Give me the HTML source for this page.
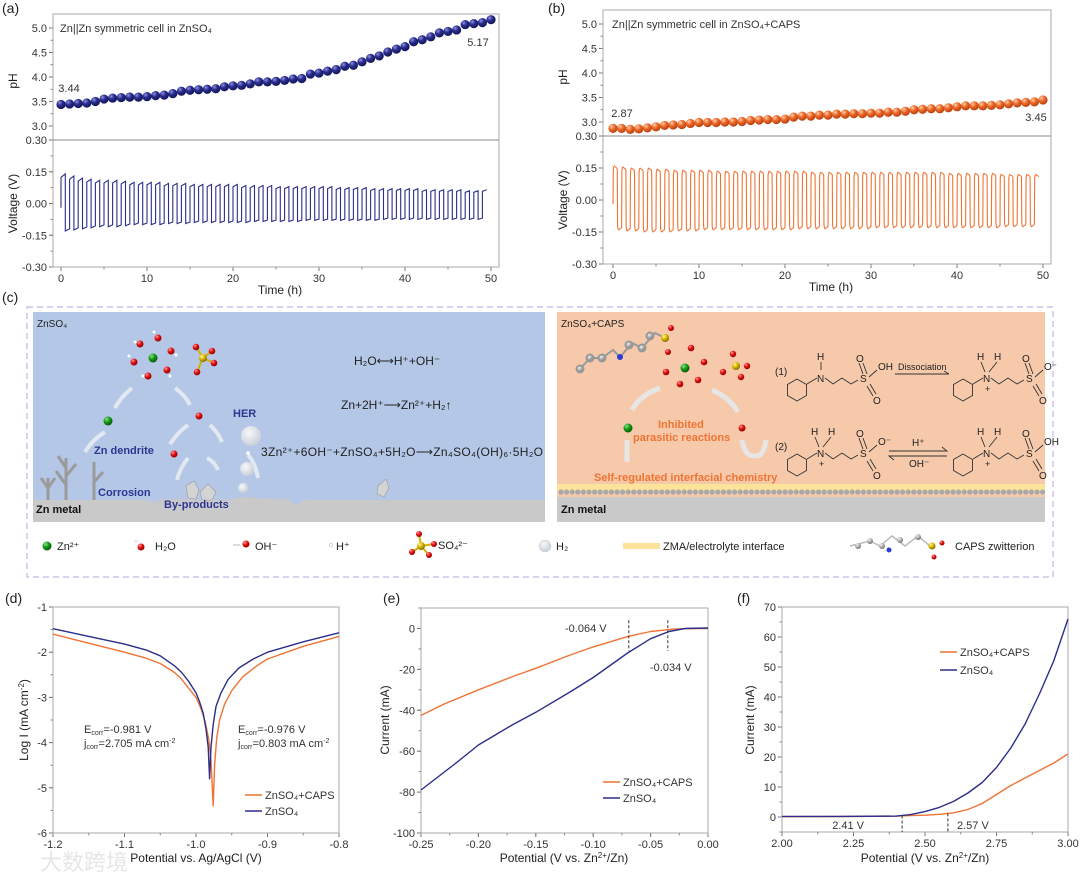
<!DOCTYPE html>
<html><head><meta charset="utf-8">
<style>
html,body{margin:0;padding:0;background:#fff;}
svg{display:block;font-family:"Liberation Sans","Noto Sans CJK SC",sans-serif;}
.tk{font-size:11px;fill:#333;}
.lab{font-size:12px;fill:#222;}
</style></head>
<body>
<svg id="fig" width="1080" height="885" viewBox="0 0 1080 885" xmlns="http://www.w3.org/2000/svg">
<defs>
<radialGradient id="gNavy" cx="35%" cy="30%" r="70%"><stop offset="0" stop-color="#8f93e0"/><stop offset="0.45" stop-color="#2a2d8f"/><stop offset="1" stop-color="#14165a"/></radialGradient>
<radialGradient id="gOr" cx="35%" cy="30%" r="70%"><stop offset="0" stop-color="#ffd2b0"/><stop offset="0.45" stop-color="#ef6a2a"/><stop offset="1" stop-color="#b8420e"/></radialGradient>
<radialGradient id="gRed" cx="35%" cy="30%" r="70%"><stop offset="0" stop-color="#ff9a9a"/><stop offset="0.5" stop-color="#e01010"/><stop offset="1" stop-color="#900"/></radialGradient>
<radialGradient id="gGreen" cx="35%" cy="30%" r="70%"><stop offset="0" stop-color="#8fe08f"/><stop offset="0.5" stop-color="#139a13"/><stop offset="1" stop-color="#0a5a0a"/></radialGradient>
<radialGradient id="gYel" cx="35%" cy="30%" r="70%"><stop offset="0" stop-color="#fff7a0"/><stop offset="0.5" stop-color="#d8b800"/><stop offset="1" stop-color="#8a7000"/></radialGradient>
<radialGradient id="gGray" cx="35%" cy="30%" r="70%"><stop offset="0" stop-color="#f4f4f4"/><stop offset="0.6" stop-color="#a8a8a8"/><stop offset="1" stop-color="#777"/></radialGradient>
<radialGradient id="gH2" cx="40%" cy="35%" r="65%"><stop offset="0" stop-color="#f8f8f8"/><stop offset="1" stop-color="#c9d0da"/></radialGradient>
</defs>

<text x="2" y="13" font-size="14" fill="#222">(a)</text>
<text x="548" y="13" font-size="14" fill="#222">(b)</text>
<text x="2" y="302" font-size="14" fill="#222">(c)</text>
<text x="5" y="603" font-size="14" fill="#222">(d)</text>
<text x="383" y="603" font-size="14" fill="#222">(e)</text>
<text x="737" y="603" font-size="14" fill="#222">(f)</text>

<g id="illus">
<rect x="27" y="307" width="1026" height="270" fill="none" stroke="#c7b4e8" stroke-width="1.2" stroke-dasharray="6,4"/>
<g>
<rect x="33" y="312" width="512" height="210" fill="#b4c7e6"/>
<path d="M33 500 L150 500 L155 503 L160 499 L230 500 L240 497 L290 500 L295 505 L305 500 L545 500 L545 522 L33 522Z" fill="#c9c9c9"/>
<text x="37" y="327" font-size="10" fill="#222">ZnSO₄</text>
<text x="36" y="513" font-size="11" font-weight="bold" fill="#111">Zn metal</text>
<g stroke="#9b9b9b" stroke-width="3" fill="none">
<path d="M48 500 L48 478 M48 488 L41 478 M48 488 L55 478"/>
<path d="M66 500 L66 458 M66 485 L56 471 M66 476 L76 464 M66 468 L58 456"/>
<path d="M94 500 L94 462 M94 482 L103 472"/>
</g>
<g stroke="#e8ecf3" stroke-width="4" fill="none" opacity="0.9">
<path d="M132 388 Q120 398 115 408"/><path d="M175 388 Q185 395 190 405"/>
<path d="M105 432 Q92 440 85 452"/><path d="M188 425 Q178 432 170 444"/>
<path d="M210 425 Q218 432 222 442"/><path d="M188 458 Q180 468 177 480"/>
<path d="M207 458 Q215 462 218 470"/><path d="M248 455 Q255 462 258 478"/>
</g>
<g>
<circle cx="153" cy="358" r="4.5" fill="url(#gGreen)"/>
<circle cx="140" cy="344" r="3.5" fill="url(#gRed)"/><circle cx="158" cy="338" r="3.5" fill="url(#gRed)"/><circle cx="171" cy="351" r="3.5" fill="url(#gRed)"/>
<circle cx="134" cy="362" r="3.5" fill="url(#gRed)"/><circle cx="148" cy="376" r="3.5" fill="url(#gRed)"/><circle cx="167" cy="370" r="3.5" fill="url(#gRed)"/>
<g fill="#fff"><circle cx="135" cy="342" r="1.5"/><circle cx="154" cy="332" r="1.5"/><circle cx="176" cy="355" r="1.5"/><circle cx="129" cy="356" r="1.5"/><circle cx="143" cy="376" r="1.5"/><circle cx="170" cy="376" r="1.5"/></g>
</g>
<g>
<path d="M203 358 L196 347 M203 358 L212 351 M203 358 L214 363 M203 358 L197 372" stroke="#d4b000" stroke-width="2"/>
<circle cx="203" cy="358" r="4" fill="url(#gYel)"/>
<circle cx="196" cy="347" r="3.3" fill="url(#gRed)"/><circle cx="212" cy="351" r="3.3" fill="url(#gRed)"/><circle cx="214" cy="363" r="3.3" fill="url(#gRed)"/><circle cx="197" cy="372" r="3.3" fill="url(#gRed)"/>
</g>
<circle cx="108" cy="421" r="4.5" fill="url(#gGreen)"/>
<circle cx="199" cy="416" r="3.5" fill="url(#gRed)"/>
<circle cx="174" cy="454" r="3.5" fill="url(#gRed)"/>
<circle cx="248" cy="453" r="1.8" fill="#fff"/>
<g>
<circle cx="251" cy="436" r="10" fill="url(#gH2)"/><circle cx="247" cy="469" r="7" fill="url(#gH2)"/><circle cx="243" cy="488" r="5" fill="url(#gH2)"/>
</g>
<g fill="#d4d4d4" stroke="#999" stroke-width="0.6">
<path d="M186 486 L194 481 L199 490 L196 499 L188 498Z"/><path d="M200 492 L208 484 L216 492 L212 500 L202 500Z"/>
<path d="M378 486 L386 479 L389 488 L384 497 L377 494Z"/>
</g>
<text x="94" y="454" font-size="11" font-weight="bold" fill="#2e3592">Zn dendrite</text>
<text x="98" y="496" font-size="11" font-weight="bold" fill="#2e3592">Corrosion</text>
<text x="164" y="508" font-size="11" font-weight="bold" fill="#2e3592">By-products</text>
<text x="233" y="417" font-size="11" font-weight="bold" fill="#2e3592">HER</text>
<text x="354" y="365" font-size="12" fill="#222">H₂O⟷H⁺+OH⁻</text>
<text x="341" y="409" font-size="12" fill="#222">Zn+2H⁺⟶Zn²⁺+H₂↑</text>
<text x="261" y="456" font-size="12" fill="#222" textLength="282">3Zn²⁺+6OH⁻+ZnSO₄+5H₂O⟶Zn₄SO₄(OH)₆·5H₂O</text>
</g>

<g>
<rect x="557" y="312" width="488" height="210" fill="#f6c9aa"/>
<rect x="557" y="484" width="488" height="7" fill="#fbe39a"/>
<rect x="557" y="497" width="488" height="25" fill="#c9c9c9"/>
<g id="dots"></g>
<text x="561" y="327" font-size="10" fill="#222">ZnSO₄+CAPS</text>
<text x="561" y="513" font-size="11" font-weight="bold" fill="#111">Zn metal</text>
<g stroke="#999" stroke-width="2">
<path d="M580 369 L590 358 L602 358 L613 350 L620 357 L632 343 L642 348 L655 333 L663 337" fill="none"/>
<circle cx="580" cy="369" r="3.5" fill="url(#gGray)"/><circle cx="590" cy="358" r="3.5" fill="url(#gGray)"/><circle cx="602" cy="358" r="3.5" fill="url(#gGray)"/>
<circle cx="620" cy="357" r="3" fill="#2a3bd8" stroke="none"/><circle cx="629" cy="345" r="3.5" fill="url(#gGray)"/><circle cx="642" cy="348" r="3.5" fill="url(#gGray)"/><circle cx="650" cy="336" r="3.5" fill="url(#gGray)"/>
<circle cx="665" cy="338" r="4" fill="url(#gYel)" stroke="none"/><circle cx="671" cy="328" r="3" fill="url(#gRed)" stroke="none"/><circle cx="668" cy="352" r="3" fill="url(#gRed)" stroke="none"/>
</g>
<g>
<circle cx="685" cy="368" r="4.5" fill="url(#gGreen)"/>
<circle cx="666" cy="372" r="3.3" fill="url(#gRed)"/><circle cx="680" cy="384" r="3.3" fill="url(#gRed)"/><circle cx="698" cy="380" r="3.3" fill="url(#gRed)"/><circle cx="704" cy="362" r="3.3" fill="url(#gRed)"/><circle cx="691" cy="348" r="3.3" fill="url(#gRed)"/>
</g>
<g>
<circle cx="736" cy="366" r="4" fill="url(#gYel)"/><circle cx="733" cy="354" r="3.2" fill="url(#gRed)"/><circle cx="747" cy="366" r="3.2" fill="url(#gRed)"/><circle cx="723" cy="372" r="3.2" fill="url(#gRed)"/><circle cx="741" cy="377" r="3.2" fill="url(#gRed)"/>
</g>
<g stroke="#e6e6e6" stroke-width="5" fill="none">
<path d="M660 388 Q640 395 632 410"/><path d="M712 390 Q730 398 738 412"/><path d="M627 440 L627 462"/><path d="M742 440 Q745 460 760 455 Q765 450 766 440"/>
</g>
<circle cx="628" cy="428" r="4.5" fill="url(#gGreen)"/>
<circle cx="742" cy="428" r="3.5" fill="url(#gRed)"/>
<text x="658" y="428" font-size="11" font-weight="bold" fill="#ef7434">Inhibited</text>
<text x="633" y="441" font-size="11" font-weight="bold" fill="#ef7434">parasitic reactions</text>
<text x="594" y="481" font-size="11" font-weight="bold" fill="#ef7434">Self-regulated interfacial chemistry</text>
<g id="structs" font-size="10" fill="#222"></g>
</g>

<g font-size="11" fill="#222">
<circle cx="47" cy="546" r="4.5" fill="url(#gGreen)"/><text x="57" y="550">Zn²⁺</text>
<circle cx="141" cy="547" r="3.5" fill="url(#gRed)"/><circle cx="136" cy="541" r="1.3" fill="#fff" stroke="#bbb" stroke-width="0.4"/><text x="155" y="550">H₂O</text>
<line x1="233" y1="545" x2="240" y2="545" stroke="#bbb"/><circle cx="246" cy="544" r="3.5" fill="url(#gRed)"/><text x="255" y="550">OH⁻</text>
<circle cx="331" cy="545" r="1.8" fill="#fff" stroke="#aaa" stroke-width="0.5"/><text x="336" y="550">H⁺</text>
<path d="M421 546 L419 534 M421 546 L434 544 M421 546 L412 552 M421 546 L429 555" stroke="#d4b000" stroke-width="2"/>
<circle cx="421" cy="546" r="4" fill="url(#gYel)"/><circle cx="419" cy="534" r="3" fill="url(#gRed)"/><circle cx="434" cy="544" r="3" fill="url(#gRed)"/><circle cx="412" cy="552" r="3" fill="url(#gRed)"/><circle cx="429" cy="555" r="3" fill="url(#gRed)"/>
<text x="438" y="549">SO₄²⁻</text>
<circle cx="545" cy="546" r="6" fill="url(#gH2)" stroke="#ccc" stroke-width="0.5"/><text x="556" y="550">H₂</text>
<rect x="623" y="543" width="37" height="6" fill="#fbe39a"/><text x="663" y="550">ZMA/electrolyte interface</text>
<g stroke="#bbb" stroke-width="1.5"><path d="M850 546 L870 541 L880 546 L892 536 L905 546 L918 536 L930 546" fill="none"/></g>
<circle cx="858" cy="546" r="3" fill="url(#gGray)"/><circle cx="870" cy="541" r="3" fill="url(#gGray)"/><circle cx="882" cy="546" r="3" fill="url(#gGray)"/><circle cx="889" cy="550" r="2.5" fill="#2a3bd8"/><circle cx="900" cy="540" r="3" fill="url(#gGray)"/><circle cx="918" cy="537" r="3" fill="url(#gGray)"/><circle cx="932" cy="546" r="3.5" fill="url(#gYel)"/><circle cx="942" cy="543" r="2.5" fill="url(#gRed)"/><circle cx="934" cy="557" r="2.5" fill="url(#gRed)"/>
<text x="955" y="550">CAPS zwitterion</text>
</g>
</g>

<text x="40" y="870" font-size="22" fill="#e6e6e6" font-family="'Noto Sans CJK SC',sans-serif">大数跨境</text>

<g id="charts"></g>
</svg>

<script>
// ---------- DATA ----------
const hoursA = [0,1,2,3,4,5,6,7,8,9,10,11,12,13,14,15,16,17,18,19,20,21,22,23,24,25,26,27,28,29,30,31,32,33,34,35,36,37,38,39,40,41,42,43,44,45,46,47,48,49,50];
const phA = [3.44,3.45,3.46,3.47,3.50,3.55,3.57,3.58,3.59,3.59,3.60,3.62,3.63,3.66,3.71,3.73,3.74,3.75,3.76,3.80,3.82,3.83,3.86,3.90,3.90,3.91,3.93,3.96,3.97,4.06,4.08,4.12,4.15,4.22,4.24,4.31,4.38,4.43,4.51,4.57,4.62,4.72,4.76,4.82,4.90,4.93,4.96,5.07,5.09,5.11,5.17];
const phB = [2.87,2.87,2.85,2.86,2.88,2.90,2.93,2.94,2.95,2.97,2.99,2.99,2.99,3.00,3.00,3.01,3.03,3.04,3.05,3.05,3.06,3.10,3.12,3.12,3.14,3.14,3.16,3.16,3.17,3.17,3.18,3.18,3.20,3.20,3.22,3.25,3.26,3.27,3.27,3.29,3.31,3.33,3.33,3.33,3.34,3.35,3.37,3.39,3.40,3.41,3.45];
const vHighA = [0.14,0.13,0.12,0.115,0.11,0.11,0.11,0.105,0.10,0.10,0.10,0.10,0.095,0.095,0.095,0.09,0.09,0.09,0.09,0.09,0.09,0.085,0.085,0.085,0.085,0.08,0.08,0.08,0.08,0.08,0.08,0.08,0.075,0.075,0.075,0.075,0.07,0.07,0.07,0.07,0.07,0.07,0.065,0.065,0.065,0.065,0.065,0.06,0.06,0.065];
const vLowA = [-0.13,-0.125,-0.12,-0.115,-0.11,-0.11,-0.11,-0.105,-0.10,-0.10,-0.10,-0.10,-0.095,-0.095,-0.095,-0.09,-0.09,-0.09,-0.09,-0.09,-0.09,-0.09,-0.085,-0.085,-0.085,-0.085,-0.085,-0.085,-0.08,-0.08,-0.08,-0.08,-0.08,-0.08,-0.08,-0.08,-0.08,-0.075,-0.075,-0.075,-0.075,-0.075,-0.075,-0.075,-0.075,-0.075,-0.075,-0.075,-0.075,-0.075];
const vHighB = [0.16,0.155,0.15,0.15,0.15,0.145,0.145,0.14,0.14,0.14,0.14,0.14,0.135,0.135,0.135,0.135,0.135,0.135,0.135,0.135,0.135,0.135,0.135,0.13,0.13,0.13,0.13,0.13,0.13,0.13,0.13,0.13,0.13,0.13,0.13,0.13,0.13,0.13,0.13,0.125,0.125,0.125,0.125,0.125,0.125,0.12,0.12,0.12,0.12,0.12];
const vLowB = [-0.14,-0.145,-0.145,-0.15,-0.15,-0.15,-0.15,-0.145,-0.145,-0.145,-0.14,-0.14,-0.14,-0.14,-0.14,-0.14,-0.14,-0.14,-0.14,-0.14,-0.14,-0.135,-0.135,-0.135,-0.135,-0.135,-0.135,-0.135,-0.135,-0.135,-0.13,-0.13,-0.13,-0.13,-0.13,-0.13,-0.13,-0.13,-0.13,-0.13,-0.13,-0.13,-0.13,-0.13,-0.13,-0.125,-0.125,-0.125,-0.125,-0.125];

const tafelE_blue = [-1.2,-1.15,-1.1,-1.07,-1.05,-1.03,-1.02,-1.01,-1.0,-0.995,-0.99,-0.986,-0.983,-0.981,-0.979,-0.976,-0.972,-0.965,-0.955,-0.94,-0.92,-0.9,-0.85,-0.8];
const tafelI_blue = [-1.48,-1.65,-1.82,-1.95,-2.08,-2.3,-2.45,-2.65,-2.9,-3.1,-3.35,-3.7,-4.1,-4.8,-4.1,-3.6,-3.2,-2.9,-2.6,-2.35,-2.15,-2.0,-1.77,-1.57];
const tafelE_or = [-1.2,-1.15,-1.1,-1.07,-1.05,-1.03,-1.02,-1.01,-1.0,-0.993,-0.987,-0.982,-0.979,-0.976,-0.974,-0.971,-0.967,-0.96,-0.95,-0.935,-0.915,-0.9,-0.85,-0.8];
const tafelI_or = [-1.6,-1.8,-2.0,-2.13,-2.25,-2.45,-2.6,-2.8,-3.0,-3.25,-3.55,-3.95,-4.4,-5.4,-4.5,-3.9,-3.5,-3.15,-2.85,-2.55,-2.3,-2.15,-1.87,-1.65];

const lsvE_or = [-0.25,-0.23,-0.2,-0.17,-0.15,-0.12,-0.1,-0.07,-0.05,-0.03,-0.015,0];
const lsvI_or = [-42.5,-37,-30,-23.5,-19.5,-13,-9,-4,-1.5,-0.3,0,0];
const lsvE_blue = [-0.25,-0.22,-0.2,-0.17,-0.15,-0.12,-0.1,-0.07,-0.05,-0.034,-0.02,0];
const lsvI_blue = [-79,-66,-57,-47,-41,-31,-24,-12,-5,-1.5,0,0.2];

const oxE = [2.0,2.2,2.4,2.45,2.5,2.55,2.6,2.65,2.7,2.75,2.8,2.85,2.9,2.95,3.0];
const oxI_blue = [0.2,0.2,0.3,0.8,1.8,3.2,5.2,8,11.5,16.5,23,31,41,52,66];
const oxI_or = [0.1,0.15,0.3,0.45,0.6,0.9,1.4,2.5,4.5,7.5,10.5,13,15.5,18,21];

const ticksTime = [0,10,20,30,40,50];
const ticksPh = [3.0,3.5,4.0,4.5,5.0];
const ticksV = [-0.30,-0.15,0.00,0.15,0.30];
const ticksTafelX = [-1.2,-1.1,-1.0,-0.9,-0.8];
const ticksTafelY = [-6,-5,-4,-3,-2,-1];
const ticksLsvX = [-0.25,-0.20,-0.15,-0.10,-0.05,0.00];
const ticksLsvY = [-100,-80,-60,-40,-20,0];
const ticksOxX = [2.00,2.25,2.50,2.75,3.00];
const ticksOxY = [0,10,20,30,40,50,60,70];

const NAVY = '#2b2e8a', ORANGE = '#ef7434';
const NS = 'http://www.w3.org/2000/svg';
const root = document.getElementById('charts');
function mk(tag, attrs, parent){ const e=document.createElementNS(NS,tag); for(const k in attrs) e.setAttribute(k,attrs[k]); (parent||root).appendChild(e); return e; }
function lin(d0,d1,r0,r1){ return v => r0 + (v-d0)/(d1-d0)*(r1-r0); }

function frame(g,x0,y0,x1,y1){
  const r = mk('rect',{x:x0,y:y0,width:x1-x0,height:y1-y0,fill:'none',stroke:'#aaa','stroke-width':1},g);
  
  
}
function xAxis(g,sx,ticks,y,fmt,minorStep,dmin,dmax){
  for(const t of ticks){
    const l = mk('line',{x1:sx(t),x2:sx(t),y1:y,y2:y+4,stroke:'#666'},g);
    
    
    const tx = mk('text',{x:sx(t),y:y+15,'text-anchor':'middle',class:'tk'},g);
    
    
    tx.textContent = fmt(t);
  }
  if(minorStep){ for(let v=dmin; v<=dmax+1e-9; v+=minorStep){
    const l = mk('line',{x1:sx(v),x2:sx(v),y1:y,y2:y+2.5,stroke:'#888'},g);
    
    
  }}
}
function yAxis(g,sy,ticks,x,fmt,minorStep,dmin,dmax){
  for(const t of ticks){
    const l = mk('line',{x1:x-4,x2:x,y1:sy(t),y2:sy(t),stroke:'#666'},g);
    
    
    const tx = mk('text',{x:x-6,y:sy(t)+4,'text-anchor':'end',class:'tk'},g);
    
    
    tx.textContent = fmt(t);
  }
  if(minorStep){ for(let v=dmin; v<=dmax+1e-9; v+=minorStep){
    const l = mk('line',{x1:x-2.5,x2:x,y1:sy(v),y2:sy(v),stroke:'#888'},g);
    
    
  }}
}
function label(g,x,y,str,rot,name,cls,color){
  const t = mk('text',{x:x,y:y,'text-anchor':'middle',class:cls||'lab'},g);
  if(rot) t.setAttribute('transform','rotate(-90 '+x+' '+y+')');
  if(color) t.setAttribute('fill',color);
  
  
  t.innerHTML = str;
  return t;
}
function line(g,xs,ys,sx,sy,color,name){
  let d=''; xs.forEach((x,i)=>{ d += (i?'L':'M')+sx(x).toFixed(1)+' '+sy(ys[i]).toFixed(1); });
  const p = mk('path',{d:d,fill:'none',stroke:color,'stroke-width':1.4,'stroke-linejoin':'round'},g);
  
  
}
function legend(g,x,y,str,color){
  const l = mk('line',{x1:x,x2:x+17,y1:y,y2:y,stroke:color,'stroke-width':1.5},g);
  
  
  const t = mk('text',{x:x+20,y:y+4,class:'tk',fill:color},g);
  
  
  t.textContent = str;
}
function dash(g,x,y0,y1){
  const l = mk('line',{x1:x,x2:x,y1:y0,y2:y1,stroke:'#333','stroke-dasharray':'3,2'},g);
  
  
}

// ---------- Panels (a) & (b) ----------
function phPanel(cfg){
  const g = mk('g',{});
  
  
  const sx = lin(0,50,cfg.x0v,cfg.x50);
  const sp = lin(3.0,5.0,cfg.y3,cfg.y5);
  const sv = lin(-0.30,0.30,cfg.bot,cfg.mid);
  frame(g,cfg.L,cfg.top,cfg.R,cfg.bot);
  const div = mk('line',{x1:cfg.L,x2:cfg.R,y1:cfg.mid,y2:cfg.mid,stroke:'#888'},g);
  
  
  xAxis(g,sx,ticksTime,cfg.bot,v=>String(v),5,0,50);
  yAxis(g,sp,ticksPh,cfg.L,v=>v.toFixed(1),0.25,3.0,5.0);
  yAxis(g,sv,ticksV,cfg.L,v=>v.toFixed(2),0.075,-0.30,0.30);
  label(g,(cfg.L+cfg.R)/2+4,cfg.bot+27,'Time (h)',false,'x-axis-title');
  label(g,cfg.L-36,(cfg.top+cfg.mid)/2+4,'pH',true,'ph-axis-title');
  label(g,cfg.L-36,(cfg.mid+cfg.bot)/2,'Voltage (V)',true,'voltage-axis-title');
  let d = 'M'+sx(0)+' '+sv(-0.02);
  cfg.hi.forEach((h,i)=>{
    const lo = cfg.lo[i];
    if(cfg.round){
      d += 'L'+sx(i+0.03)+' '+sv(h*0.85)+'Q'+sx(i+0.07)+' '+sv(h)+' '+sx(i+0.14)+' '+sv(h);
      d += 'L'+sx(i+0.46)+' '+sv(h*0.93)+'L'+sx(i+0.5)+' '+sv(h*0.9);
      if(i<cfg.hi.length-1){
        d += 'L'+sx(i+0.53)+' '+sv(lo*0.85)+'Q'+sx(i+0.57)+' '+sv(lo)+' '+sx(i+0.64)+' '+sv(lo);
        d += 'L'+sx(i+0.97)+' '+sv(lo*0.93)+'L'+sx(i+1)+' '+sv(lo*0.9);
      }
    } else {
      d += 'L'+sx(i)+' '+sv(h*0.88)+'L'+sx(i+0.5)+' '+sv(h);
      if(i<cfg.hi.length-1){
        d += 'L'+sx(i+0.5)+' '+sv(lo)+'L'+sx(i+1)+' '+sv(lo*0.92);
      }
    }
  });
  const wave = mk('path',{d:d,fill:'none',stroke:cfg.color,'stroke-width':1.1},g);
  
  
  cfg.ph.forEach((v,i)=>{
    const c = mk('circle',{cx:sx(hoursA[i]),cy:sp(v),r:4.6,fill:cfg.grad},g);
    
    
  });
  label(g,cfg.titleX,cfg.top+18,cfg.title,false,'panel-title','tk',cfg.color).setAttribute('text-anchor','start');
  label(g,cfg.sx,cfg.sy,cfg.ph[0].toFixed(2),false,'start-ph-value','tk',cfg.color);
  label(g,cfg.ex,cfg.ey,cfg.ph[cfg.ph.length-1].toFixed(2),false,'end-ph-value','tk',cfg.color);
}
phPanel({name:'panel-a-ph-voltage',L:53,R:499,top:14,mid:140,bot:267,x0v:61,x50:491,y3:126,y5:28,
  ph:phA,hi:vHighA,lo:vLowA,color:NAVY,grad:'url(#gNavy)',round:false,
  title:'Zn||Zn symmetric cell in ZnSO₄',titleX:60,sx:69,sy:92,ex:478,ey:46});
phPanel({name:'panel-b-ph-voltage',L:603,R:1051,top:10,mid:136,bot:264,x0v:613,x50:1043,y3:122,y5:24,
  ph:phB,hi:vHighB,lo:vLowB,color:ORANGE,grad:'url(#gOr)',round:true,
  title:'Zn||Zn symmetric cell in ZnSO₄+CAPS',titleX:612,sx:622,sy:117,ex:1036,ey:121});

// ---------- Panel (d) ----------
(function(){
  const g = mk('g',{});
  
  
  const sx = lin(-1.2,-0.8,53,339), sy = lin(-6,-1,833,607);
  frame(g,53,607,339,833);
  xAxis(g,sx,ticksTafelX,833,v=>v.toFixed(1),0.05,-1.2,-0.8);
  yAxis(g,sy,ticksTafelY,53,v=>String(v),0.5,-6,-1);
  label(g,196,862,'Potential vs. Ag/AgCl (V)',false,'x-axis-title');
  label(g,28,720,'Log I (mA cm<tspan dy="-4" font-size="8">-2</tspan><tspan dy="4">)</tspan>',true,'y-axis-title');
  line(g,tafelE_or,tafelI_or,sx,sy,ORANGE,'tafel-curve-znso4-caps');
  line(g,tafelE_blue,tafelI_blue,sx,sy,NAVY,'tafel-curve-znso4');
  const a = label(g,84,733,'E<tspan font-size="7" dy="2">corr</tspan><tspan dy="-2">=-0.981 V</tspan>',false,'ecorr-znso4','tk',NAVY); a.setAttribute('text-anchor','start');
  const b = label(g,84,747,'j<tspan font-size="7" dy="2">corr</tspan><tspan dy="-2">=2.705 mA cm</tspan><tspan font-size="7" dy="-4">-2</tspan>',false,'jcorr-znso4','tk',NAVY); b.setAttribute('text-anchor','start');
  const c = label(g,238,733,'E<tspan font-size="7" dy="2">corr</tspan><tspan dy="-2">=-0.976 V</tspan>',false,'ecorr-caps','tk',ORANGE); c.setAttribute('text-anchor','start');
  const e = label(g,238,747,'j<tspan font-size="7" dy="2">corr</tspan><tspan dy="-2">=0.803 mA cm</tspan><tspan font-size="7" dy="-4">-2</tspan>',false,'jcorr-caps','tk',ORANGE); e.setAttribute('text-anchor','start');
  legend(g,245,795,'ZnSO₄+CAPS',ORANGE);
  legend(g,245,811,'ZnSO₄',NAVY);
})();

// ---------- Panel (e) ----------
(function(){
  const g = mk('g',{});
  
  
  const sx = lin(-0.25,0,421,708), sy = lin(-100,10,833,608);
  frame(g,421,608,708,833);
  xAxis(g,sx,ticksLsvX,833,v=>v.toFixed(2),0.025,-0.25,0);
  yAxis(g,sy,ticksLsvY,421,v=>String(v),10,-100,10);
  label(g,564,862,'Potential (V vs. Zn<tspan font-size="8" dy="-4">2+</tspan><tspan dy="4">/Zn)</tspan>',false,'x-axis-title');
  label(g,389,720,'Current (mA)',true,'y-axis-title');
  line(g,lsvE_or,lsvI_or,sx,sy,ORANGE,'lsv-curve-znso4-caps');
  line(g,lsvE_blue,lsvI_blue,sx,sy,NAVY,'lsv-curve-znso4');
  dash(g,sx(-0.069),sy(4),sy(-11));
  dash(g,sx(-0.035),sy(4),sy(-11));
  label(g,565,632,'-0.064 V',false,'onset-label-caps','tk',ORANGE).setAttribute('text-anchor','start');
  label(g,650,671,'-0.034 V',false,'onset-label-znso4','tk',NAVY).setAttribute('text-anchor','start');
  legend(g,603,782,'ZnSO₄+CAPS',ORANGE);
  legend(g,603,798,'ZnSO₄',NAVY);
})();

// ---------- Panel (f) ----------
(function(){
  const g = mk('g',{});
  
  
  const sx = lin(2.0,3.0,782,1068), sy = lin(-5,70,832,607);
  frame(g,782,607,1068,832);
  xAxis(g,sx,ticksOxX,832,v=>v.toFixed(2),0.125,2.0,3.0);
  yAxis(g,sy,ticksOxY,782,v=>String(v),5,-5,70);
  label(g,925,862,'Potential (V vs. Zn<tspan font-size="8" dy="-4">2+</tspan><tspan dy="4">/Zn)</tspan>',false,'x-axis-title');
  label(g,754,720,'Current (mA)',true,'y-axis-title');
  line(g,oxE,oxI_or,sx,sy,ORANGE,'oxidation-curve-znso4-caps');
  line(g,oxE,oxI_blue,sx,sy,NAVY,'oxidation-curve-znso4');
  dash(g,sx(2.42),sy(0.5),832);
  dash(g,sx(2.58),sy(1.2),832);
  label(g,864,829,'2.41 V',false,'onset-label-znso4','tk',NAVY).setAttribute('text-anchor','end');
  label(g,957,829,'2.57 V',false,'onset-label-caps','tk',ORANGE).setAttribute('text-anchor','start');
  legend(g,940,652,'ZnSO₄+CAPS',ORANGE);
  legend(g,940,670,'ZnSO₄',NAVY);
})();

// ---------- illustration extras ----------
(function(){
  const dots = document.getElementById('dots');
  for(let x=561; x<1043; x+=5.6){
    const c = mk('circle',{cx:x,cy:492,r:2.6,fill:'#a9a9a9'},dots);
    
    
  }
  const S = document.getElementById('structs');
  function hexPath(cx,cy,r){ let d=''; for(let k=0;k<6;k++){ const a=Math.PI/6+k*Math.PI/3; d+=(k?'L':'M')+(cx+r*Math.cos(a)).toFixed(1)+' '+(cy+r*Math.sin(a)).toFixed(1);} return d+'Z'; }
  function struct(cx,cy,twoH,end,name){
    const g = mk('g',{},S);
    
    
    const p = mk('path',{d:hexPath(cx,cy,11)+' M'+(cx+10)+' '+(cy-6)+' L'+(cx+20)+' '+(cy-12)+' M'+(cx+28)+' '+(cy-12)+' L'+(cx+36)+' '+(cy-6)+' L'+(cx+45)+' '+(cy-12)+' L'+(cx+54)+' '+(cy-6)+' L'+(cx+61)+' '+(cy-10)+' M'+(cx+66)+' '+(cy-16)+' L'+(cx+62)+' '+(cy-27)+' M'+(cx+70)+' '+(cy-16)+' L'+(cx+66)+' '+(cy-27)+' M'+(cx+70)+' '+(cy-4)+' L'+(cx+76)+' '+(cy+6)+' M'+(cx+73)+' '+(cy-6)+' L'+(cx+79)+' '+(cy+4)+' M'+(cx+72)+' '+(cy-13)+' L'+(cx+80)+' '+(cy-20),fill:'none',stroke:'#333','stroke-width':0.9},g);
    
    
    const add=(x,y,s,fs)=>{ const t=mk('text',{x:x,y:y,'font-size':fs||10,fill:'#222'},g);   t.textContent=s; };
    add(cx+20,cy-8,'N'); add(cx+63,cy-8,'S'); add(cx+59,cy-28,'O'); add(cx+76,cy+14,'O'); add(cx+81,cy-20,end);
    if(twoH){ add(cx+14,cy-30,'H'); add(cx+31,cy-30,'H'); add(cx+22,cy+2,'+',9);
      const hb = mk('path',{d:'M'+(cx+18)+' '+(cy-28)+' L'+(cx+22)+' '+(cy-18)+' M'+(cx+34)+' '+(cy-28)+' L'+(cx+26)+' '+(cy-18),stroke:'#333','stroke-width':0.9},g);
      
      
    } else { add(cx+20,cy-30,'H');
      const hb = mk('path',{d:'M'+(cx+24)+' '+(cy-28)+' L'+(cx+24)+' '+(cy-20),stroke:'#333','stroke-width':0.9},g);
      
      
    }
  }
  struct(797,390,false,'OH','caps-neutral-1');
  struct(963,390,true,'O⁻','caps-zwitterion-1');
  struct(797,465,true,'O⁻','caps-zwitterion-2');
  struct(963,465,true,'OH','caps-protonated-2');
  const add=(x,y,s,n,fs)=>{ const t=mk('text',{x:x,y:y,'font-size':fs||10,fill:'#222'},S);   t.textContent=s; };
  add(775,375,'(1)','reaction-1-label'); add(775,450,'(2)','reaction-2-label');
  add(898,370,'Dissociation','dissociation-label',9); add(912,446,'H⁺','proton-label'); add(909,467,'OH⁻','hydroxide-label');
  const ar = mk('path',{d:'M895 374 L949 374 M944 371 L949 374 M889 451 L947 451 L942 447 M947 456 L889 456 L894 460',fill:'none',stroke:'#333','stroke-width':0.9},S);
  
  
})();
</script>
</body></html>
